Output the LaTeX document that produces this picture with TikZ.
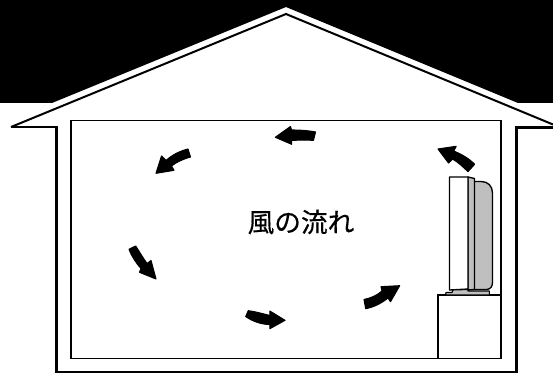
\documentclass[tikz,border=0pt]{standalone}
\usepackage{fontspec}
\newfontfamily\cjk[FakeBold=0.35]{Noto Sans CJK JP}
\tikzset{
  wall/.style={draw=black,line width=1.7pt,line join=miter},
  room/.style={draw=black,line width=1pt},
  tvpart/.style={draw=black,line width=1pt,line join=round},
  flow/.style={fill=black,draw=black,line width=0.8pt,line join=round}
}
\definecolor{tvgrey}{gray}{0.75}
\begin{document}
\begin{tikzpicture}[x=0.75pt,y=-0.75pt]
\useasboundingbox (0,0) rectangle (553,374);
\fill[white] (0,0) rectangle (553,374);
\fill[black] (0,0) -- (553,0) -- (553,103) -- (518,103) -- (286,7) -- (52,103) -- (0,103) -- cycle;
\draw[wall,line width=1.5pt] (11,127) -- (286,14) -- (553,124.5);
\draw[wall] (11,127) -- (56.5,127) -- (56.5,372.3) -- (516.5,372.3) -- (516.5,127.5) -- (553,127.5);
\draw[room] (71,120.5) rectangle (501,358.5);
% furniture
\draw[room] (438,358.5) -- (438,295) -- (501,295);
% TV
\draw[tvpart,fill=tvgrey] (474,181.5) -- (481,181.5) .. controls (488,181.5) and (492.5,186) .. (492.5,193) -- (492.5,282) .. controls (492.5,286) and (491,289) .. (487,289.5) -- (474,289.5) -- cycle;
\draw[tvpart,fill=tvgrey] (468,177) -- (474.5,178.5) -- (474.5,289.5) -- (468,290) -- cycle;
\draw[tvpart,fill=white] (449.5,177) -- (468,177) -- (468,289) -- (449.5,290) -- cycle;
\draw[tvpart,fill=tvgrey,line width=0.8pt] (445.5,295) -- (446,292.5) -- (452,292.5) -- (453,290) -- (468,289.5) -- (468,291) -- (489.3,291) -- (489.3,295) -- cycle;
% flow arrows
\draw[flow] (315.5,132) .. controls (308,130.5) and (299,130) .. (291.5,130) -- (290.5,126.5) -- (275.3,137.3) -- (291.7,144.3) -- (291.5,140.5) .. controls (298,140) and (306,140) .. (313.5,140.3) -- cycle;
\draw[flow] (188,149) .. controls (180,151) and (172,155) .. (166,160.5) -- (161.5,156) -- (156,173.3) -- (174,170.3) -- (171.5,166) .. controls (177,161.5) and (185,158.5) .. (190.5,157) -- cycle;
\draw[flow] (129,249.3) .. controls (131.5,256) and (136,263) .. (141,268.5) -- (139.5,272.3) -- (156,279) -- (151,260.5) -- (147,263.5) .. controls (143,258) and (139,251) .. (135.7,246) -- cycle;
\draw[flow] (248.3,310.7) .. controls (255,311.5) and (262,313.5) .. (269.8,315.5) -- (269.8,311) -- (285,320.3) -- (269.8,328.7) -- (269.8,324.5) .. controls (261,324.5) and (252,321) .. (245.7,316.5) -- cycle;
\draw[flow] (364,299.5) .. controls (371,298) and (377,295.5) .. (382,291) -- (381,286.7) -- (399.7,285.7) -- (390.5,301.7) -- (388,298) .. controls (381,303.5) and (374,307) .. (365.7,308.7) -- cycle;
\draw[flow] (474.6,164.3) .. controls (469,158.5) and (462,154.5) .. (453.7,151) -- (456.2,146.3) -- (438,149) -- (448.5,163) -- (452.5,159) .. controls (458,162) and (463,167) .. (468,171.6) -- cycle;
\node[inner sep=0pt,text=black,font={\cjk\fontsize{20pt}{24pt}\selectfont}] (label) at (301,222) {風の流れ};
\end{tikzpicture}
\end{document}
